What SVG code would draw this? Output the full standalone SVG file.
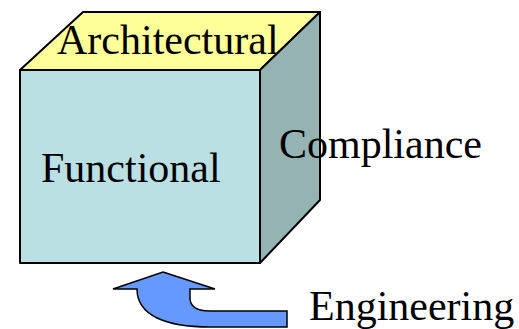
<svg xmlns="http://www.w3.org/2000/svg" width="519" height="329" viewBox="0 0 519 329">
<style>
.edge{stroke:#000;stroke-width:2;stroke-linejoin:round}
.lbl{font-family:"Liberation Serif",serif;font-size:42px;fill:#000}
</style>
<rect width="519" height="329" fill="#fff"/>
<g id="cube">
<polygon class="edge" points="20,70 83,12 320,12 260,70" fill="#FFFF99"/>
<polygon class="edge" points="260,70 320,12 320,200 260,263" fill="#96B3B3"/>
<rect class="edge" x="20" y="70" width="240" height="193" fill="#BBE0E3"/>
</g>
<g id="connectors">
<path d="M163,272 L215,289 L190,289 L190,298 C190,306 196,311 210,311 L287,311 L287,327 L210,327 C165,327 137,315 137,289 L113,289 Z" fill="#6699FF" stroke="#000" stroke-width="1.5" stroke-linejoin="miter"/>
</g>
<g id="labels">
<text class="lbl" x="57" y="54">Architectural</text>
<text class="lbl" x="41" y="182">Functional</text>
<text class="lbl" x="279" y="158">Compliance</text>
<text class="lbl" x="309" y="320">Engineering</text>
</g>
</svg>
